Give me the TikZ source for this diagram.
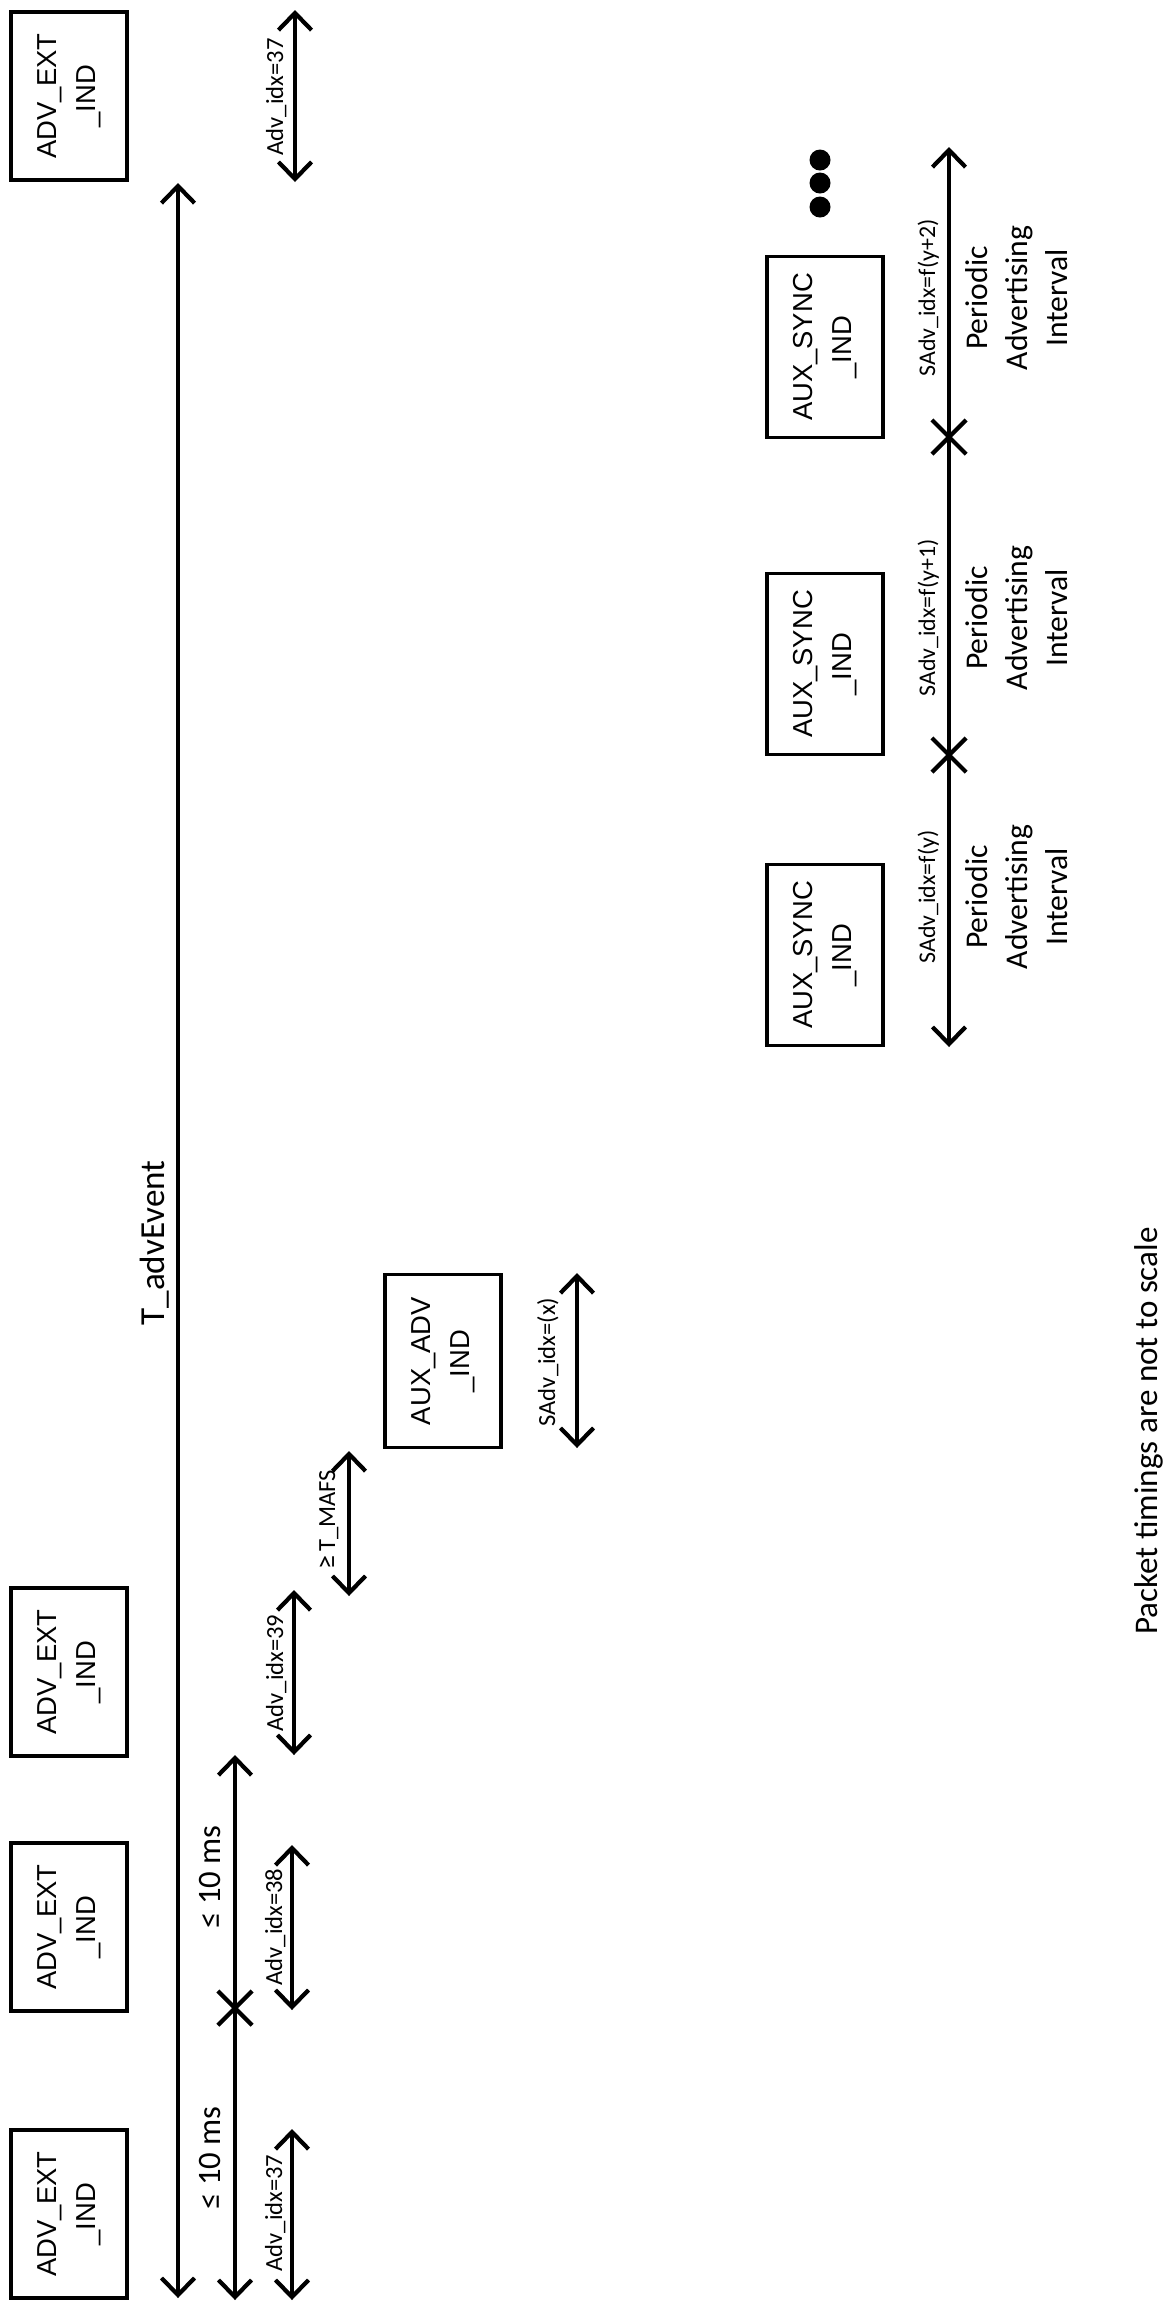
\documentclass[tikz,border=0pt]{standalone}
\usepackage{fontspec}
\setmainfont{Carlito}
\newfontfamily\pktfont{Liberation Sans}
\usetikzlibrary{arrows.meta, shapes.misc}

\begin{document}
\begin{tikzpicture}[
    x=0.01cm, y=-0.01cm,
    >={Straight Barb[length=1.7mm, width=3.3mm]},
    pkt/.style={draw, line width=0.95pt, rotate=90, inner sep=0pt,
                minimum width=1.68cm, minimum height=1.16cm, align=center,
                font=\pktfont\fontsize{7.8}{11}\selectfont},
    dim/.style={<->, line width=1.2pt},
    tick/.style={draw, cross out, line width=1.2pt, minimum size=0.3cm, inner sep=0pt},
    lbl/.style={rotate=90, anchor=base, inner sep=0pt, font=\fontsize{7}{8}\selectfont},
    big/.style={rotate=90, anchor=base, inner sep=0pt, font=\fontsize{9.3}{11}\selectfont},
    pai/.style={rotate=90, align=center, inner sep=0pt, font=\fontsize{9}{11.4}\selectfont},
    dot/.style={circle, fill=black, minimum size=0.21cm, inner sep=0pt},
]
\useasboundingbox (0,0) rectangle (1171,2308);

% ===================== Paquetes ADV_EXT_IND =====================
\foreach \n/\y in {1/2214, 2/1927, 3/1672, 4/96}{
    \node[pkt] (ext\n) at (69,\y) {ADV\_EXT\\\_IND};
}

% ===================== AUX_ADV_IND y AUX_SYNC_IND =====================
\node[pkt, minimum width=1.73cm] (auxadv) at (443,1361) {AUX\_ADV\\\_IND};
\foreach \n/\y in {1/955, 2/664, 3/347}{
    \node[pkt, minimum width=1.81cm] (sync\n) at (825,\y) {AUX\_SYNC\\\_IND};
}

% ===================== Flechas de tiempo =====================
\foreach \n/\x/\ya/\yb in {tadv/178/2298/183, win/235/2300/1755, idxa/292/2300/2129,
    idxb/292/2010/1845, idxc/294/1755/1590, mafs/349/1596/1451,
    sadv/577/1448/1273, idxd/295/182/10, per/949/1047/147}{
    \coordinate (\n-s) at (\x,\ya);
    \coordinate (\n-e) at (\x,\yb);
    \draw[dim] (\n-s) -- (\n-e);
}
\node[tick] (xwin) at (235,2008) {};
\node[tick] (xper1) at (949,755) {};
\node[tick] (xper2) at (949,437) {};

% ===================== Etiquetas =====================
\node[big, font=\fontsize{10}{12}\selectfont] (tlbl) at (164,1243) {T\_advEvent};
\foreach \n/\y in {1/2158, 2/1877}{
    \node[big] (win\n) at (220,\y) {≤ 10 ms};
}
\foreach \n/\x/\y/\lab in {a/282/2213/37, b/282/1927/38, c/283/1673/39, d/283/97/37}{
    \node[lbl] (idx\n) at (\x,\y) {Adv\_idx=\lab};
}
\node[lbl] (mafs) at (335,1520) {{\fontsize{8}{8}\selectfont ≥}\,T\_MAFS};
\node[lbl] (sadvx) at (555,1362) {SAdv\_idx=(x)};
\foreach \n/\y/\lab in {1/897/y, 2/618/y+1, 3/298/y+2}{
    \node[lbl, font=\fontsize{6.8}{8}\selectfont] (fidx\n) at (935,\y) {SAdv\_idx=f(\lab)};
    \node[pai] (pai\n) at (1017,\y) {Periodic\\Advertising\\Interval};
}

% puntos suspensivos
\foreach \n/\y in {1/160, 2/183, 3/207}{
    \node[dot] (dot\n) at (820,\y) {};
}

\node[big, font=\fontsize{9.4}{11}\selectfont] (note) at (1157,1431) {Packet timings are not to scale};

\end{tikzpicture}
\end{document}
